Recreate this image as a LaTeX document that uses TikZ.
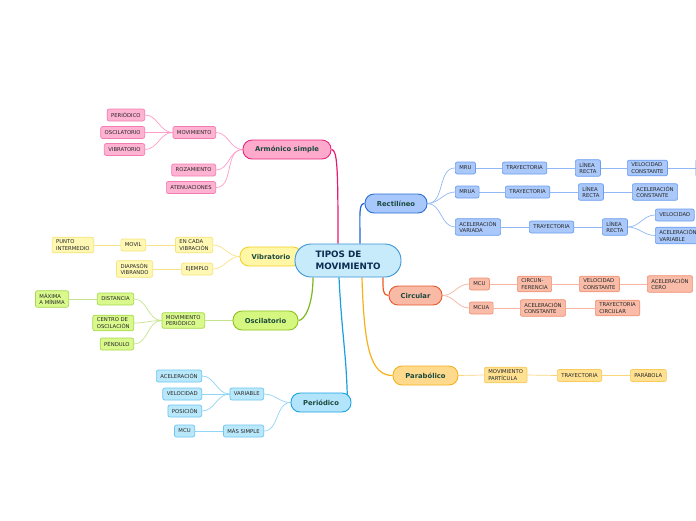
\documentclass[tikz,border=0pt]{standalone}
\usepackage{fontspec}
\setmainfont{DejaVu Sans}
\usetikzlibrary{backgrounds,calc}
\definecolor{txt}{HTML}{262626}
\definecolor{mtxt}{HTML}{1B4A3F}
\definecolor{rtxt}{HTML}{0D2A4F}
% pink
\definecolor{pkM}{HTML}{FFAACD}\definecolor{pkMD}{HTML}{E6287D}
\definecolor{pkF}{HTML}{FFB3D2}\definecolor{pkD}{HTML}{F27DB2}
\definecolor{pkL}{HTML}{FF9EC8}\definecolor{pkML}{HTML}{E8196F}
% yellow
\definecolor{yeM}{HTML}{FFF6A6}\definecolor{yeMD}{HTML}{F2D22A}
\definecolor{yeF}{HTML}{FFF8B4}\definecolor{yeD}{HTML}{F6E37A}
\definecolor{yeL}{HTML}{F8E38A}
% green
\definecolor{grM}{HTML}{D6F77F}\definecolor{grMD}{HTML}{8DC21F}
\definecolor{grF}{HTML}{D9F98D}\definecolor{grD}{HTML}{A9D84C}
\definecolor{grL}{HTML}{C6E48E}\definecolor{grML}{HTML}{7FB81A}
% light blue
\definecolor{lbM}{HTML}{B2E5FB}\definecolor{lbMD}{HTML}{1CA3E3}
\definecolor{lbF}{HTML}{BAE8FB}\definecolor{lbD}{HTML}{6CC6F0}
\definecolor{lbL}{HTML}{92D5F5}\definecolor{lbML}{HTML}{1A9FE0}
% blue
\definecolor{blM}{HTML}{A8C7FA}\definecolor{blMD}{HTML}{2A6FD6}
\definecolor{blF}{HTML}{AAC9FA}\definecolor{blD}{HTML}{6B9EF0}
\definecolor{blL}{HTML}{92B8F5}\definecolor{blML}{HTML}{1F63D0}
% salmon
\definecolor{saM}{HTML}{F8B9A5}\definecolor{saMD}{HTML}{E8582C}
\definecolor{saF}{HTML}{F9BCA8}\definecolor{saD}{HTML}{F29072}
\definecolor{saL}{HTML}{F8B49E}\definecolor{saML}{HTML}{F05A22}
% orange
\definecolor{orM}{HTML}{FFD98C}\definecolor{orMD}{HTML}{F5B21F}
\definecolor{orF}{HTML}{FFE191}\definecolor{orD}{HTML}{F7CB5C}
\definecolor{orL}{HTML}{FBD57A}\definecolor{orML}{HTML}{F7B21A}
% root
\definecolor{rtF}{HTML}{C7EBFB}\definecolor{rtD}{HTML}{3B95D6}
\tikzset{
  sbase/.style={draw, rounded corners=2pt, font=\fontsize{5.3}{6.4}\selectfont, text=txt,
    inner xsep=4pt, inner ysep=2.6pt, minimum height=12pt, align=left, line width=0.7pt},
  pkS/.style={sbase, fill=pkF, draw=pkD},
  yeS/.style={sbase, fill=yeF, draw=yeD},
  grS/.style={sbase, fill=grF, draw=grD},
  lbS/.style={sbase, fill=lbF, draw=lbD},
  blS/.style={sbase, fill=blF, draw=blD},
  saS/.style={sbase, fill=saF, draw=saD},
  orS/.style={sbase, fill=orF, draw=orD},
  mbase/.style={draw, rounded corners=9pt, minimum height=19pt, inner sep=0pt,
    font=\fontsize{6.8}{8}\selectfont\bfseries, text=mtxt, line width=0.9pt},
  lk/.style={line width=0.7pt},
  mk/.style={line width=1.2pt},
  tol/.style={out=180,in=0},
  tor/.style={out=0,in=180}
}
\begin{document}
\begin{tikzpicture}[x=1pt,y=-1pt]
\begin{pgfonlayer}{background}
\fill[white] (0,0) rectangle (696,520);
\end{pgfonlayer}
\useasboundingbox (0,0) rectangle (696,520);

% ---- Armonico simple
\node[mbase, fill=pkM, draw=pkMD, minimum width=88pt] (arm) at (287,149.5) {Armónico simple};
\node[pkS, anchor=east] (mov) at (216,132.5) {MOVIMIENTO};
\node[pkS, anchor=east] (roz) at (216,170) {ROZAMIENTO};
\node[pkS, anchor=east] (ate) at (216,187.5) {ATENUACIONES};
\node[pkS, anchor=east] (peri) at (145,115) {PERIÓDICO};
\node[pkS, anchor=east] (osci) at (145,132.5) {OSCILATORIO};
\node[pkS, anchor=east] (vibr) at (145,149.5) {VIBRATORIO};

% ---- Vibratorio
\node[mbase, fill=yeM, draw=yeMD, minimum width=62pt] (vib) at (271,256.5) {Vibratorio};
\node[yeS, anchor=east] (ecv) at (213,245) {EN CADA\\VIBRACIÓN};
\node[yeS, anchor=east] (ejem) at (213,269) {EJEMPLO};
\node[yeS, anchor=east] (movil) at (146,245) {MOVIL};
\node[yeS, anchor=east] (punto) at (94,245) {PUNTO\\INTERMEDIO};
\node[yeS, anchor=east] (diap) at (153,269) {DIAPASÓN\\VIBRANDO};

% ---- Oscilatorio
\node[mbase, fill=grM, draw=grMD, minimum width=65pt] (osc) at (265.5,320.5) {Oscilatorio};
\node[grS, anchor=east] (mper) at (205,320.5) {MOVIMIENTO\\PERIÓDICO};
\node[grS, anchor=east] (dist) at (134,299) {DISTANCIA};
\node[grS, anchor=east] (cent) at (134,323) {CENTRO DE\\OSCILACIÓN};
\node[grS, anchor=east] (pend) at (134,344) {PÉNDULO};
\node[grS, anchor=east] (maxi) at (69,299) {MÁXIMA\\A MÍNIMA};

% ---- Periodico
\node[mbase, fill=lbM, draw=lbMD, minimum width=60pt] (per) at (321,402.5) {Periódico};
\node[lbS, anchor=east] (var) at (264,394) {VARIABLE};
\node[lbS, anchor=east] (mas) at (264,431) {MÁS SIMPLE};
\node[lbS, anchor=east] (acel) at (202,376) {ACELERACIÓN};
\node[lbS, anchor=east] (velo) at (202,394) {VELOCIDAD};
\node[lbS, anchor=east] (posi) at (202,411) {POSICIÓN};
\node[lbS, anchor=east] (mcuB) at (195,431) {MCU};

% ---- Rectilineo
\node[mbase, fill=blM, draw=blMD, minimum width=62pt] (rec) at (396,203.5) {Rectilíneo};
\node[blS, anchor=west] (mru) at (455,168) {MRU};
\node[blS, anchor=west] (tra1) at (502,168) {TRAYECTORIA};
\node[blS, anchor=west] (lre1) at (575,168) {LÍNEA\\RECTA};
\node[blS, anchor=west] (vco1) at (627,168) {VELOCIDAD\\CONSTANTE};
\node[blS, anchor=west, minimum width=40pt, minimum height=18pt] (cut) at (695.5,168) {};
\node[blS, anchor=west] (mrua) at (455,192) {MRUA};
\node[blS, anchor=west] (tra2) at (505,192) {TRAYECTORIA};
\node[blS, anchor=west] (lre2) at (578,192) {LÍNEA\\RECTA};
\node[blS, anchor=west] (aco2) at (632,192) {ACELERACIÓN\\CONSTANTE};
\node[blS, anchor=west] (avar) at (455,227) {ACELERACIÓN\\VARIADA};
\node[blS, anchor=west] (tra3) at (529,227) {TRAYECTORIA};
\node[blS, anchor=west] (lre3) at (602,227) {LÍNEA\\RECTA};
\node[blS, anchor=west] (vel3) at (655,215) {VELOCIDAD};
\node[blS, anchor=west] (acv3) at (655,235.5) {ACELERACIÓN\\VARIABLE};

% ---- Circular
\node[mbase, fill=saM, draw=saMD, minimum width=53pt] (circ) at (415.5,295.5) {Circular};
\node[saS, anchor=west] (mcuA) at (469,284) {MCU};
\node[saS, anchor=west] (cfer) at (517,284) {CIRCUN-\\FERENCIA};
\node[saS, anchor=west] (vcoC) at (579,284) {VELOCIDAD\\CONSTANTE};
\node[saS, anchor=west] (acer) at (647,284) {ACELERACIÓN\\CERO};
\node[saS, anchor=west] (mcua) at (469,308) {MCUA};
\node[saS, anchor=west] (acoC) at (520,308) {ACELERACIÓN\\CONSTANTE};
\node[saS, anchor=west] (tcir) at (595,308) {TRAYECTORIA\\CIRCULAR};

% ---- Parabolico
\node[mbase, fill=orM, draw=orMD, minimum width=65pt] (par) at (425.5,375.5) {Parabólico};
\node[orS, anchor=west] (mpar) at (484,375) {MOVIMIENTO\\PARTÍCULA};
\node[orS, anchor=west] (trap) at (557,375.5) {TRAYECTORIA};
\node[orS, anchor=west] (parb) at (630,375.5) {PARÁBOLA};

% ---- Root
\node[draw=rtD, fill=rtF, line width=0.9pt, rounded corners=16pt, minimum width=106pt,
  minimum height=33pt, align=left, text=rtxt, inner sep=0pt,
  font=\fontsize{8.8}{12}\selectfont\bfseries] (root) at (348,260.5) {TIPOS DE\\MOVIMIENTO};

\begin{pgfonlayer}{background}
% root to main branches
\draw[mk, pkML] ([xshift=-10pt]root.north) .. controls +(0,-75) and +(6,0) .. (arm.east);
\draw[mk, blML] ([xshift=12pt]root.north) .. controls +(0,-30) and +(-6,0) .. (rec.west);
\draw[mk, grML] ([xshift=-35pt]root.south) .. controls +(0,28) and +(6,0) .. (osc.east);
\draw[mk, lbML] ([xshift=-9pt]root.south) .. controls +(3,60) and +(-1,-50) .. ([xshift=-4pt]per.east);
\draw[mk, saML] ([xshift=35pt]root.south) .. controls +(0,12) and +(-6,0) .. (circ.west);
\draw[mk, orML] ([xshift=14pt]root.south) .. controls +(2,70) and +(-22,0) .. (par.west);
% armonico
\draw[lk, pkL] (arm.west) to[tol] (mov.east);
\draw[lk, pkL] (arm.west) to[tol] (roz.east);
\draw[lk, pkL] (arm.west) to[tol] (ate.east);
\draw[lk, pkL] (mov.west) to[tol] (peri.east);
\draw[lk, pkL] (mov.west) -- (osci.east);
\draw[lk, pkL] (mov.west) to[tol] (vibr.east);
% vibratorio
\draw[lk, yeL] (vib.west) to[tol] (ecv.east);
\draw[lk, yeL] (vib.west) to[tol] (ejem.east);
\draw[lk, yeL] (ecv.west) -- (movil.east);
\draw[lk, yeL] (movil.west) -- (punto.east);
\draw[lk, yeL] (ejem.west) -- (diap.east);
% oscilatorio
\draw[lk, grL] (osc.west) -- (mper.east);
\draw[lk, grL] (mper.west) to[tol] (dist.east);
\draw[lk, grL] (mper.west) to[tol] (cent.east);
\draw[lk, grL] (mper.west) to[tol] (pend.east);
\draw[lk, grL] (dist.west) -- (maxi.east);
% periodico
\draw[lk, lbL] (per.west) to[tol] (var.east);
\draw[lk, lbL] (per.west) to[tol] (mas.east);
\draw[lk, lbL] (var.west) to[tol] (acel.east);
\draw[lk, lbL] (var.west) -- (velo.east);
\draw[lk, lbL] (var.west) to[tol] (posi.east);
\draw[lk, lbL] (mas.west) -- (mcuB.east);
% rectilineo
\draw[lk, blL] (rec.east) to[tor] (mru.west);
\draw[lk, blL] (rec.east) to[tor] (mrua.west);
\draw[lk, blL] (rec.east) to[tor] (avar.west);
\draw[lk, blL] (mru.east) -- (tra1.west);
\draw[lk, blL] (tra1.east) -- (lre1.west);
\draw[lk, blL] (lre1.east) -- (vco1.west);
\draw[lk, blL] (vco1.east) -- (cut.west);
\draw[lk, blL] (mrua.east) -- (tra2.west);
\draw[lk, blL] (tra2.east) -- (lre2.west);
\draw[lk, blL] (lre2.east) -- (aco2.west);
\draw[lk, blL] (avar.east) -- (tra3.west);
\draw[lk, blL] (tra3.east) -- (lre3.west);
\draw[lk, blL] (lre3.east) to[tor] (vel3.west);
\draw[lk, blL] (lre3.east) to[tor] (acv3.west);
% circular
\draw[lk, saL] (circ.east) to[tor] (mcuA.west);
\draw[lk, saL] (circ.east) to[tor] (mcua.west);
\draw[lk, saL] (mcuA.east) -- (cfer.west);
\draw[lk, saL] (cfer.east) -- (vcoC.west);
\draw[lk, saL] (vcoC.east) -- (acer.west);
\draw[lk, saL] (mcua.east) -- (acoC.west);
\draw[lk, saL] (acoC.east) -- (tcir.west);
% parabolico
\draw[lk, orL] (par.east) -- (mpar.west);
\draw[lk, orL] (mpar.east) -- (trap.west);
\draw[lk, orL] (trap.east) -- (parb.west);
\end{pgfonlayer}
\end{tikzpicture}
\end{document}
